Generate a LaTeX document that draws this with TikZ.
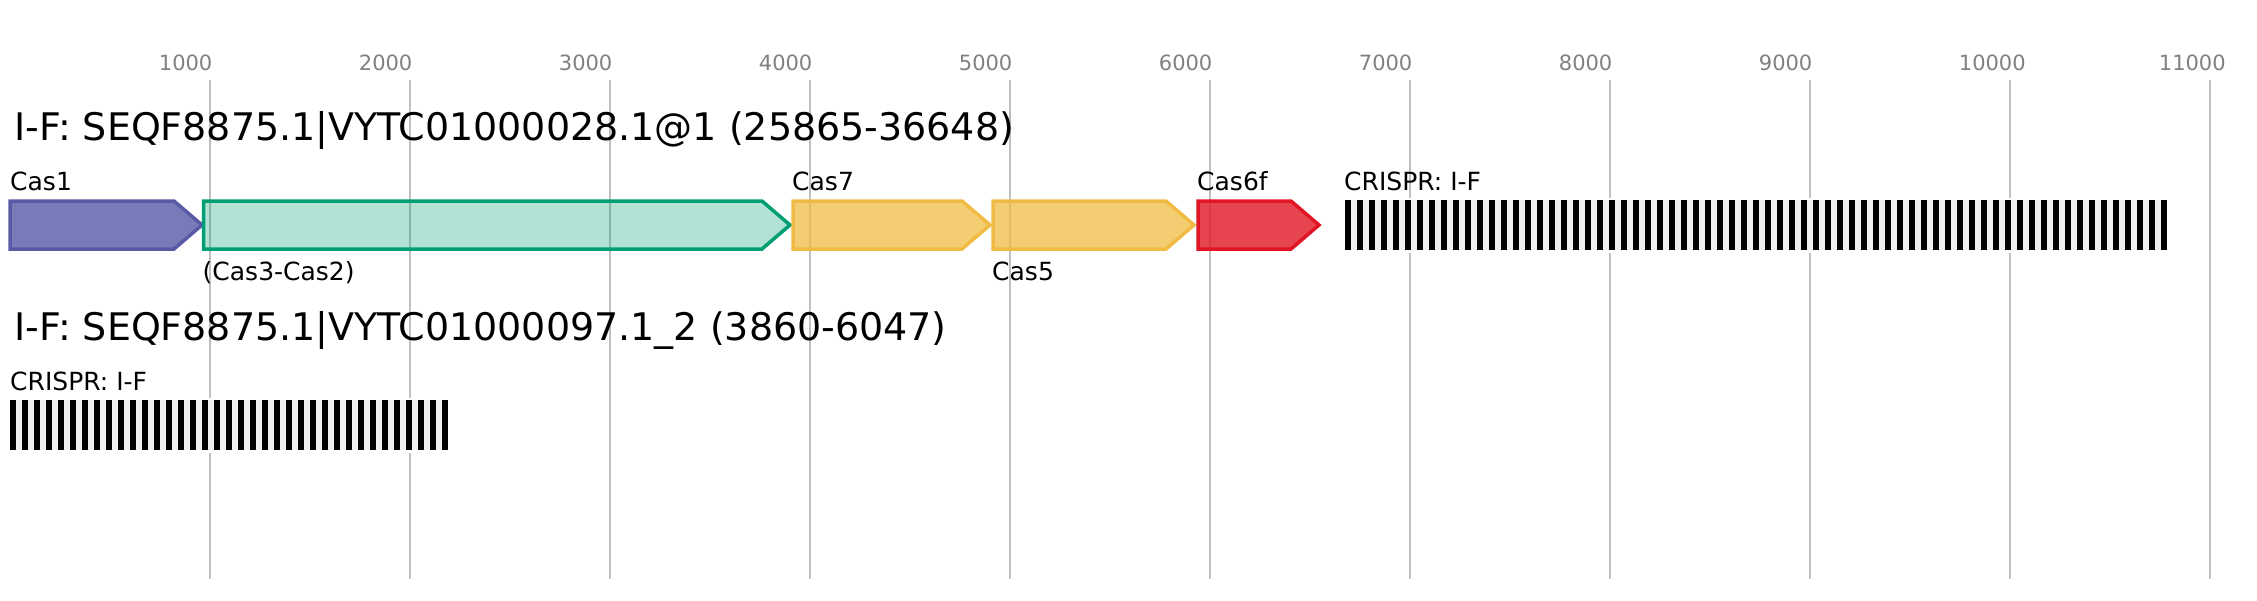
\documentclass[tikz,border=0pt]{standalone}
\usepackage{fontspec}
\setmainfont{DejaVu Sans}
\definecolor{gridc}{RGB}{192,192,192}
\definecolor{tickc}{RGB}{128,128,128}
\definecolor{cone}{RGB}{88,90,166}
\definecolor{cthree}{RGB}{0,158,115}
\definecolor{cseven}{RGB}{240,187,66}
\definecolor{csix}{RGB}{224,22,36}
\definecolor{crbg}{RGB}{240,240,240}
\tikzset{
  ticklbl/.style={anchor=base west, inner sep=0pt, font=\fontsize{21}{21}\selectfont, text=tickc},
  titlelbl/.style={anchor=base west, inner sep=0pt, font=\fontsize{38}{38}\selectfont},
  genelbl/.style={anchor=base west, inner sep=0pt, font=\fontsize{25}{25}\selectfont},
  gene/.style={line width=3.5pt, line join=miter},
  gridline/.style={draw=gridc, line width=2pt},
}
\newcommand{\genearrow}[5]{%
  \draw[gene, draw=#4, fill=#4, fill opacity=#5] (#1,#3) -- ({#2-28},#3) -- (#2,{#3+24}) -- ({#2-28},{#3+48}) -- (#1,{#3+48}) -- cycle;
}
\begin{document}
\begin{tikzpicture}[x=1pt,y=-1pt]
\useasboundingbox (0,0) rectangle (2257,600);
% grid and ticks
\foreach \n in {1,...,11} {
  \draw[gridline] ({9.7+200*\n},80) -- ({9.7+200*\n},579);
  \node[ticklbl] (tick\n) at ({9.7+200*\n-51},70.7) {\n000};
}
% titles
\node[titlelbl] (title1) at (14,140.7) {I-F: SEQF8875.1|VYTC01000028.1@1 (25865-36648)};
\node[titlelbl] (title2) at (14,340.7) {I-F: SEQF8875.1|VYTC01000097.1\_2 (3860-6047)};
% row 1 genes
\genearrow{10}{202}{201}{cone}{0.8}
\genearrow{203.5}{790}{201}{cthree}{0.3}
\genearrow{793}{990}{201}{cseven}{0.75}
\genearrow{993}{1194}{201}{cseven}{0.75}
\genearrow{1198}{1319}{201}{csix}{0.8}
\node[genelbl] (l1) at (10,190) {Cas1};
\node[genelbl] (l2) at (202.5,280) {(Cas3-Cas2)};
\node[genelbl] (l3) at (792,190) {Cas7};
\node[genelbl] (l4) at (992,280) {Cas5};
\node[genelbl] (l5) at (1197,190) {Cas6f};
% CRISPR row 1
\fill[white] (1342,197.5) rectangle (2170,252.5);
\fill[crbg] (1345,200) rectangle (2167,250);
\foreach \k in {0,...,68} { \fill[black] ({1345+12*\k},200) rectangle ++(6,50); }
\node[genelbl] (l6) at (1344,190) {CRISPR: I-F};
% CRISPR row 2
\fill[white] (7,397.5) rectangle (451,452.5);
\fill[crbg] (10,400) rectangle (448,450);
\foreach \k in {0,...,36} { \fill[black] ({10+12*\k},400) rectangle ++(6,50); }
\node[genelbl] (l7) at (10,390) {CRISPR: I-F};
\end{tikzpicture}
\end{document}
